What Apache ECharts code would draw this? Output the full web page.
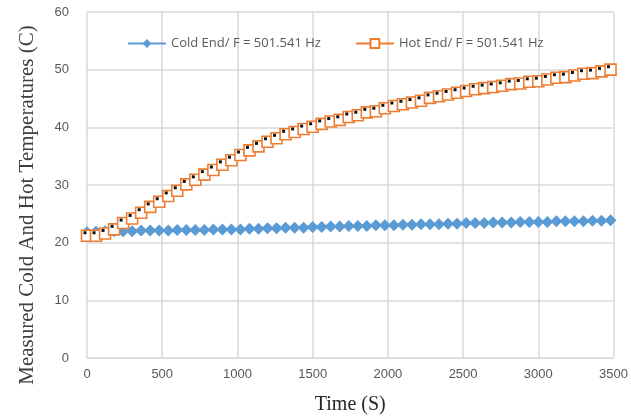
<!DOCTYPE html>
<html>
<head>
<meta charset="utf-8">
<script src="https://cdn.jsdelivr.net/npm/echarts@6/dist/echarts.min.js"></script>
<style>
  html, body { margin: 0; padding: 0; background: #fff; }
  #chart { width: 631px; height: 420px; }
</style>
</head>
<body>
<div id="chart"></div>
<script>
// time in seconds (one reading each minute)
var timeS = [0, 60, 120, 180, 240, 300, 360, 420, 480, 540, 600, 660, 720, 780, 840, 900, 960, 1020,
  1080, 1140, 1200, 1260, 1320, 1380, 1440, 1500, 1560, 1620, 1680, 1740, 1800, 1860, 1920, 1980,
  2040, 2100, 2160, 2220, 2280, 2340, 2400, 2460, 2520, 2580, 2640, 2700, 2760, 2820, 2880, 2940,
  3000, 3060, 3120, 3180, 3240, 3300, 3360, 3420, 3480]

var coldEnd = [21.8, 21.9, 22.0, 22.0, 22.0, 22.0, 22.1, 22.1, 22.1, 22.1, 22.2, 22.2, 22.2, 22.2,
  22.3, 22.3, 22.3, 22.3, 22.4, 22.4, 22.5, 22.5, 22.6, 22.6, 22.6, 22.7, 22.7, 22.8, 22.8, 22.9,
  22.9, 22.9, 23.0, 23.0, 23.0, 23.1, 23.1, 23.2, 23.2, 23.2, 23.3, 23.3, 23.4, 23.4, 23.4, 23.5,
  23.5, 23.5, 23.6, 23.6, 23.6, 23.6, 23.7, 23.7, 23.7, 23.7, 23.8, 23.8, 23.9]

var hotEnd = [21.2, 21.2, 21.6, 22.3, 23.4, 24.2, 25.2, 26.2, 27.1, 28.1, 29.0, 30.1, 30.9, 31.8,
  32.6, 33.5, 34.3, 35.2, 36.0, 36.7, 37.5, 38.1, 38.8, 39.2, 39.7, 40.1, 40.6, 41.0, 41.3, 41.8,
  42.1, 42.6, 42.8, 43.3, 43.7, 44.0, 44.3, 44.6, 45.1, 45.4, 45.7, 46.0, 46.3, 46.6, 46.8, 47.0,
  47.2, 47.5, 47.6, 47.9, 48.0, 48.3, 48.6, 48.7, 49.0, 49.3, 49.4, 49.7, 50.0]

var seriesNames = ['Cold End/ F = 501.541 Hz', 'Hot End/ F = 501.541 Hz']
var yTitle = 'Measured Cold And Hot Temperatures (C)'

function pairs(values) {
  var data = []
  for (var i = 0; i < values.length; i++) {
    data.push([timeS[i], values[i]])
  }
  return data
}

var myChart = echarts.init(document.getElementById('chart'))

var option = {
  backgroundColor: '#fff',
  animation: false,
  // y title sits a bit lower than the plot centre, so draw it by hand
  graphic: [{
    type: 'text',
    x: 27,
    y: 205,
    rotation: Math.PI / 2,
    style: {
      text: yTitle,
      fill: '#404040',
      font: '21px "Liberation Serif"',
      align: 'center',
      verticalAlign: 'middle'
    }
  }],
  legend: {
    top: 32,
    left: 122,
    itemGap: 34,
    itemWidth: 38,
    itemHeight: 11,
    textStyle: { color: '#595959', fontSize: 13, fontFamily: 'Open Sans' },
    data: seriesNames
  },
  grid: { left: 87, right: 14, top: 12, bottom: 60 },
  xAxis: {
    type: 'value',
    min: 0,
    max: 3500,
    interval: 500,
    name: 'Time (S)',
    nameLocation: 'middle',
    nameGap: 37,
    nameTextStyle: { color: '#262626', fontSize: 20, fontFamily: 'Liberation Serif' },
    axisLine: { lineStyle: { color: '#d9d9d9' } },
    axisTick: { show: false },
    axisLabel: {
      color: '#595959',
      fontSize: 13,
      margin: 10,
      formatter: function (v) { return String(v) }
    },
    splitLine: { show: true, lineStyle: { color: '#d9d9d9', width: 1.5 } }
  },
  yAxis: {
    type: 'value',
    min: 0,
    max: 60,
    interval: 10,
    axisLine: { show: false },
    axisTick: { show: false },
    axisLabel: { color: '#595959', fontSize: 13, margin: 18 },
    splitLine: { lineStyle: { color: '#d9d9d9', width: 1.5 } }
  },
  series: [
    {
      name: seriesNames[0],
      type: 'line',
      data: pairs(coldEnd),
      symbol: 'diamond',
      symbolSize: 12,
      z: 2,
      itemStyle: { color: '#5b9bd5' },
      lineStyle: { color: '#5b9bd5', width: 2.5 }
    },
    {
      name: seriesNames[1],
      type: 'line',
      data: pairs(hotEnd),
      symbol: 'rect',
      symbolSize: 11,
      z: 3,
      itemStyle: { color: '#fff', borderColor: '#ed7d31', borderWidth: 1.6 },
      lineStyle: { color: '#ed7d31', width: 1 }
    },
    {
      name: 'hot dots',
      type: 'line',
      data: pairs(hotEnd),
      symbol: 'rect',
      symbolSize: 3,
      symbolOffset: [-2, -3],
      z: 4,
      itemStyle: { color: '#111' },
      lineStyle: { width: 0, opacity: 0 }
    }
  ]
}

if (option && typeof option === 'object') {
  myChart.setOption(option, true)
}
</script>
</body>
</html>
